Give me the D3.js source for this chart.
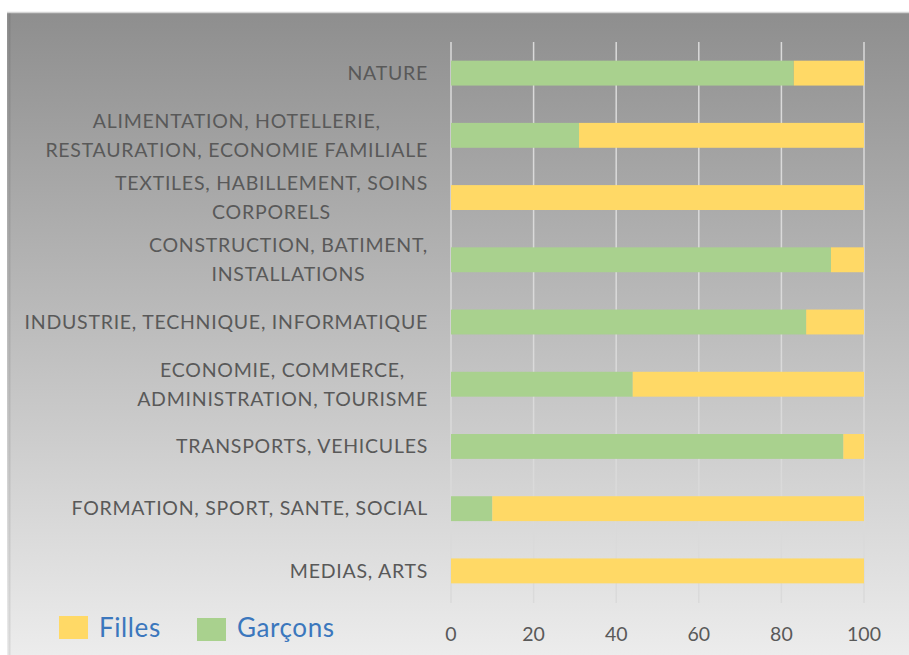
<!DOCTYPE html>
<html>
<head>
<meta charset="utf-8">
<script src="https://cdn.jsdelivr.net/npm/d3@7"></script>
<style>
  body { margin:0; background:#fff; }
  svg text { font-family: Lato, "Open Sans", sans-serif; }
</style>
</head>
<body>
<div id="chart"></div>
<script>
// categories, top to bottom (each entry = lines of the wrapped label)
var categories = [
  ["NATURE"],
  ["ALIMENTATION, HOTELLERIE,", "RESTAURATION, ECONOMIE FAMILIALE"],
  ["TEXTILES, HABILLEMENT, SOINS", "CORPORELS"],
  ["CONSTRUCTION, BATIMENT,", "INSTALLATIONS"],
  ["INDUSTRIE, TECHNIQUE, INFORMATIQUE"],
  ["ECONOMIE, COMMERCE,", "ADMINISTRATION, TOURISME"],
  ["TRANSPORTS, VEHICULES"],
  ["FORMATION, SPORT, SANTE, SOCIAL"],
  ["MEDIAS, ARTS"]
];
var garcons = [83, 31, 0, 92, 86, 44, 95, 10, 0];
var filles  = [17, 69, 100, 8, 14, 56, 5, 90, 100];
var xTicks = [0, 20, 40, 60, 80, 100];
var seriesNames = ["Filles", "Garçons"];

var W = 909, H = 655;
var colGarcons = "#a9d18e", colFilles = "#ffd966";

var svg = d3.select("#chart").append("svg")
    .attr("width", W).attr("height", H);

var defs = svg.append("defs");
var grad = defs.append("linearGradient").attr("id", "bg")
    .attr("x1", 0).attr("y1", 0).attr("x2", 0).attr("y2", 1);
grad.append("stop").attr("offset", "0%").attr("stop-color", "#8e8e8e");
grad.append("stop").attr("offset", "100%").attr("stop-color", "#eeeeee");

// frame
svg.append("rect").attr("x", 7).attr("y", 12).attr("width", W).attr("height", H)
    .attr("fill", "url(#bg)");
svg.append("line").attr("x1", 7).attr("x2", W).attr("y1", 12.5).attr("y2", 12.5)
    .attr("stroke", "#d4d4d4").attr("stroke-width", 1.5);
svg.append("line").attr("x1", 9.5).attr("x2", 9.5).attr("y1", 13).attr("y2", H)
    .attr("stroke", "#000").attr("stroke-opacity", 0.08).attr("stroke-width", 2);

var x = d3.scaleLinear().domain([0, 100]).range([451, 864]);
var y = d3.scaleBand().domain(d3.range(categories.length)).range([42, 602]).paddingInner(0.6).paddingOuter(0.3);

// gridlines
svg.append("g").selectAll("line").data(xTicks).join("line")
    .attr("x1", function(d) { return x(d); }).attr("x2", function(d) { return x(d); })
    .attr("y1", 42).attr("y2", 603)
    .attr("stroke", "#dadada").attr("stroke-width", 1.5);

// stacked bars
var stackData = categories.map(function(c, i) { return { i: i, g: garcons[i], f: filles[i] }; });
var bars = svg.append("g");
bars.selectAll(".g").data(stackData).join("rect")
    .attr("x", x(0))
    .attr("y", function(d) { return y(d.i); })
    .attr("height", y.bandwidth())
    .attr("width", function(d) { return x(d.g) - x(0); })
    .attr("fill", colGarcons);
bars.selectAll(".f").data(stackData).join("rect")
    .attr("x", function(d) { return x(d.g); })
    .attr("y", function(d) { return y(d.i); })
    .attr("height", y.bandwidth())
    .attr("width", function(d) { return x(d.g + d.f) - x(d.g); })
    .attr("fill", colFilles);

// category labels: block right aligned, lines centred within block
var labG = svg.append("g").attr("fill", "#595959")
    .style("font-size", "19.5px").style("letter-spacing", "0.75px");
categories.forEach(function(lines, i) {
  var cy = y(i) + y.bandwidth() / 2;
  var texts = lines.map(function(l, k) {
    return labG.append("text").text(l)
      .attr("y", cy + (k - (lines.length - 1) / 2) * 29)
      .attr("dy", "0.35em").attr("text-anchor", "middle");
  });
  var maxW = d3.max(texts, function(t) { return t.node().getComputedTextLength(); });
  texts.forEach(function(t) { t.attr("x", 428 - maxW / 2); });
});

// x axis tick labels
svg.append("g").selectAll("text").data(xTicks).join("text")
    .attr("x", function(d) { return x(d); })
    .attr("y", 634).attr("dy", "0.35em")
    .attr("text-anchor", "middle")
    .attr("fill", "#595959").style("font-size", "19.5px")
    .text(function(d) { return d; });

// legend
var legend = svg.append("g");
var legX = [59, 197];
[colFilles, colGarcons].forEach(function(c, i) {
  legend.append("rect").attr("x", legX[i]).attr("y", 616 + i * 2).attr("width", 29).attr("height", 23).attr("fill", c);
  legend.append("text").attr("x", legX[i] + 40).attr("y", 628).attr("dy", "0.35em")
    .attr("fill", "#3b77bd").style("font-size", "26px").style("letter-spacing", "0.6px")
    .text(seriesNames[i]);
});
</script>
</body>
</html>
